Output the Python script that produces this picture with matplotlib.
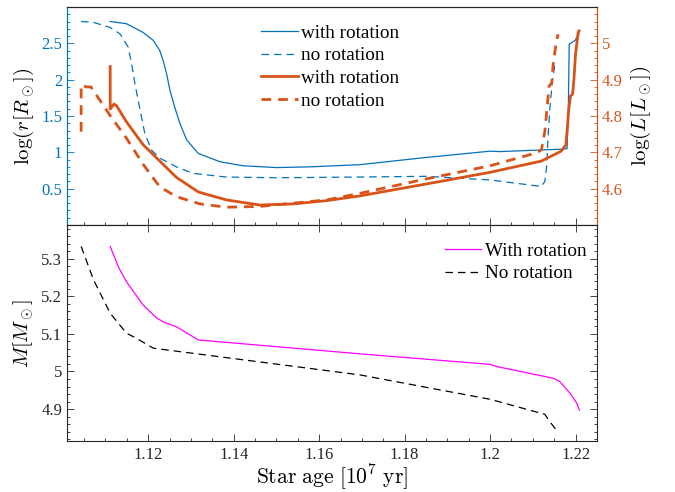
import matplotlib
matplotlib.use("Agg")
import matplotlib.pyplot as plt
from matplotlib.ticker import MultipleLocator

# --- данные: верхняя панель, радиус (левая ось) ---
age_r_rot = [1.1111, 1.1149, 1.1188, 1.1212, 1.1227, 1.1235, 1.1243, 1.1251, 1.1262,
             1.1274, 1.1290, 1.1317, 1.1368, 1.1422, 1.1500, 1.1578, 1.1695, 1.1851,
             1.2000, 1.2023, 1.2173, 1.2180, 1.2183, 1.2185, 1.2191, 1.2199, 1.2204, 1.2208]
logr_rot = [2.80, 2.77, 2.65, 2.54, 2.40, 2.26, 2.08, 1.85, 1.62,
            1.40, 1.17, 0.985, 0.87, 0.815, 0.79, 0.80, 0.83, 0.93,
            1.016, 1.01, 1.045, 1.05, 1.60, 2.49, 2.51, 2.54, 2.60, 2.63]

age_r_norot = [1.1043, 1.1071, 1.1110, 1.1134, 1.1153, 1.1161, 1.1169, 1.1181, 1.1192,
               1.1208, 1.1227, 1.1266, 1.1305, 1.1383, 1.1500, 1.1695, 1.1851, 1.2000,
               1.2120, 1.2128, 1.2132, 1.2136, 1.2139, 1.2146, 1.2151, 1.2156]
logr_norot = [2.80, 2.79, 2.72, 2.63, 2.45, 2.22, 1.94, 1.58, 1.26,
              1.03, 0.92, 0.80, 0.71, 0.66, 0.65, 0.66, 0.67, 0.62,
              0.53, 0.60, 0.80, 1.26, 1.55, 2.00, 2.19, 2.19]

# --- данные: верхняя панель, светимость (правая ось) ---
age_L_rot = [1.1111, 1.1111, 1.1120, 1.1126, 1.1149, 1.1188, 1.1227, 1.1266, 1.1317,
             1.1383, 1.1461, 1.1539, 1.1617, 1.1695, 1.1851, 1.2000, 1.2120, 1.2166,
             1.2177, 1.2180, 1.2184, 1.2188, 1.2193, 1.2196, 1.2200, 1.2206, 1.2208]
logL_rot = [4.936, 4.819, 4.833, 4.828, 4.784, 4.721, 4.676, 4.631, 4.591,
            4.569, 4.555, 4.558, 4.567, 4.580, 4.613, 4.645, 4.676, 4.703,
            4.720, 4.757, 4.819, 4.855, 4.860, 4.900, 4.972, 5.030, 5.034]

age_L_norot = [1.1043, 1.1043, 1.1055, 1.1066, 1.1111, 1.1149, 1.1188, 1.1227, 1.1266,
               1.1321, 1.1383, 1.1461, 1.1617, 1.1695, 1.1851, 1.2000, 1.2110, 1.2120,
               1.2128, 1.2133, 1.2138, 1.2144, 1.2147, 1.2154, 1.2159]
logL_norot = [4.757, 4.886, 4.880, 4.880, 4.801, 4.739, 4.667, 4.605, 4.578,
              4.558, 4.549, 4.551, 4.569, 4.587, 4.627, 4.663, 4.699, 4.707,
              4.757, 4.819, 4.882, 4.891, 4.936, 4.998, 5.025]

# --- данные: нижняя панель, масса ---
age_M_rot = [1.1111, 1.1130, 1.1149, 1.1188, 1.1220, 1.1239, 1.1266, 1.1317, 1.1695,
             1.2000, 1.2016, 1.2148, 1.2163, 1.2187, 1.2203, 1.2209]
mass_rot = [5.333, 5.279, 5.239, 5.177, 5.142, 5.130, 5.119, 5.084, 5.047,
            5.019, 5.013, 4.982, 4.973, 4.942, 4.915, 4.897]

age_M_norot = [1.1043, 1.1072, 1.1111, 1.1149, 1.1173, 1.1212, 1.1695, 1.2000,
               1.2128, 1.2140, 1.2159]
mass_norot = [5.333, 5.244, 5.155, 5.102, 5.088, 5.062, 4.991, 4.926,
              4.886, 4.866, 4.838]

BLUE = "#0072BD"
ORANGE = "#D95319"
MAGENTA = "#FF00FF"
AXCOL = "#262626"

plt.rcParams["font.family"] = ["Liberation Serif", "DejaVu Serif"]
plt.rcParams["mathtext.fontset"] = "cm"
plt.rcParams["font.size"] = 12

fig = plt.figure(figsize=(6.75, 4.92), dpi=100)
ax1 = fig.add_axes([0.0993, 0.5427, 0.7851, 0.4431])
ax2 = fig.add_axes([0.0993, 0.1037, 0.7851, 0.4390], sharex=ax1)
ax1r = ax1.twinx()


def style_ticks(ax, color, side):
    ax.tick_params(axis="y", which="both", direction="in", colors=color,
                   left=(side == "left"), right=(side == "right"),
                   labelleft=(side == "left"), labelright=(side == "right"),
                   labelsize=12, width=0.6)
    ax.tick_params(axis="y", which="major", length=5)
    ax.tick_params(axis="y", which="minor", length=2.5)


# Верхняя панель — радиус и светимость
l1, = ax1.plot(age_r_rot, logr_rot, color=BLUE, lw=0.9, label="with rotation")
l2, = ax1.plot(age_r_norot, logr_norot, color=BLUE, lw=0.9, ls=(0, (6, 4)), label="no rotation")
l3, = ax1r.plot(age_L_rot, logL_rot, color=ORANGE, lw=2.0, label="with rotation")
l4, = ax1r.plot(age_L_norot, logL_norot, color=ORANGE, lw=2.0, ls=(0, (3.5, 2.5)), label="no rotation")

ax1.set_xlim(1.101, 1.225)
ax1.set_ylim(0, 3)
ax1r.set_ylim(4.5, 5.1)
ax1.yaxis.set_major_locator(MultipleLocator(0.5))
ax1.yaxis.set_minor_locator(MultipleLocator(0.1))
ax1r.yaxis.set_major_locator(MultipleLocator(0.1))
ax1r.yaxis.set_minor_locator(MultipleLocator(0.02))
ax1.set_yticks([0.5, 1, 1.5, 2, 2.5])
ax1.set_yticklabels(["0.5", "1", "1.5", "2", "2.5"])
ax1r.set_yticks([4.6, 4.7, 4.8, 4.9, 5.0])
ax1r.set_yticklabels(["4.6", "4.7", "4.8", "4.9", "5"])
style_ticks(ax1, BLUE, "left")
style_ticks(ax1r, ORANGE, "right")

ax1.xaxis.set_major_locator(MultipleLocator(0.02))
ax1.xaxis.set_minor_locator(MultipleLocator(0.005))
ax1.tick_params(axis="x", which="both", direction="in", colors=AXCOL,
                bottom=True, top=False, labelbottom=False, width=0.6)
ax1.tick_params(axis="x", which="major", length=5)
ax1.tick_params(axis="x", which="minor", length=2.5)

for ax in (ax1, ax1r):
    ax.spines["top"].set_color(AXCOL)
    ax.spines["bottom"].set_color(AXCOL)
    ax.spines["left"].set_color(BLUE)
    ax.spines["right"].set_color(ORANGE)
    for s in ax.spines.values():
        s.set_linewidth(0.8)

ax1.set_ylabel(r"$\log(r[R_\odot])$", fontsize=15, color="black", labelpad=4)
ax1r.set_ylabel(r"$\log(L[L_\odot])$", fontsize=15, color="black", labelpad=4)

ax1.legend(handles=[l1, l2, l3, l4], loc="upper left", bbox_to_anchor=(0.352, 0.955),
           frameon=False, fontsize=13.8, handlelength=1.9, handletextpad=0.2,
           labelspacing=0.27, borderaxespad=0.0)

# Нижняя панель — масса
m1, = ax2.plot(age_M_rot, mass_rot, color=MAGENTA, lw=0.9, label="With rotation")
m2, = ax2.plot(age_M_norot, mass_norot, color="black", lw=0.9, ls=(0, (6, 4)), label="No rotation")

ax2.set_ylim(4.815, 5.39)
ax2.yaxis.set_major_locator(MultipleLocator(0.1))
ax2.yaxis.set_minor_locator(MultipleLocator(0.02))
ax2.set_yticks([4.9, 5.0, 5.1, 5.2, 5.3])
ax2.set_yticklabels(["4.9", "5", "5.1", "5.2", "5.3"])
ax2.tick_params(axis="both", which="both", direction="in", colors=AXCOL,
                left=True, right=True, bottom=True, top=True, width=0.6, labelsize=12)
ax2.tick_params(axis="both", which="major", length=5)
ax2.tick_params(axis="both", which="minor", length=2.5)
ax2.tick_params(axis="x", which="minor", top=False)
ax2.set_xticks([1.12, 1.14, 1.16, 1.18, 1.2, 1.22])
ax2.set_xticklabels(["1.12", "1.14", "1.16", "1.18", "1.2", "1.22"])
ax2.tick_params(axis="x", pad=4)
ax2.set_xlim(1.101, 1.225)
for s in ax2.spines.values():
    s.set_color(AXCOL)
    s.set_linewidth(0.8)

ax2.set_xlabel(r"$\mathrm{Star\ age}\ [10^7\ \mathrm{yr}]$", fontsize=15.5, labelpad=0)
ax2.set_ylabel(r"$M[M_\odot]$", fontsize=15, labelpad=4)
ax2.legend(handles=[m1, m2], loc="upper left", bbox_to_anchor=(0.698, 0.955),
           frameon=False, fontsize=13.8, handlelength=1.9, handletextpad=0.2,
           labelspacing=0.27, borderaxespad=0.0)

fig.savefig("out.png", dpi=100)
